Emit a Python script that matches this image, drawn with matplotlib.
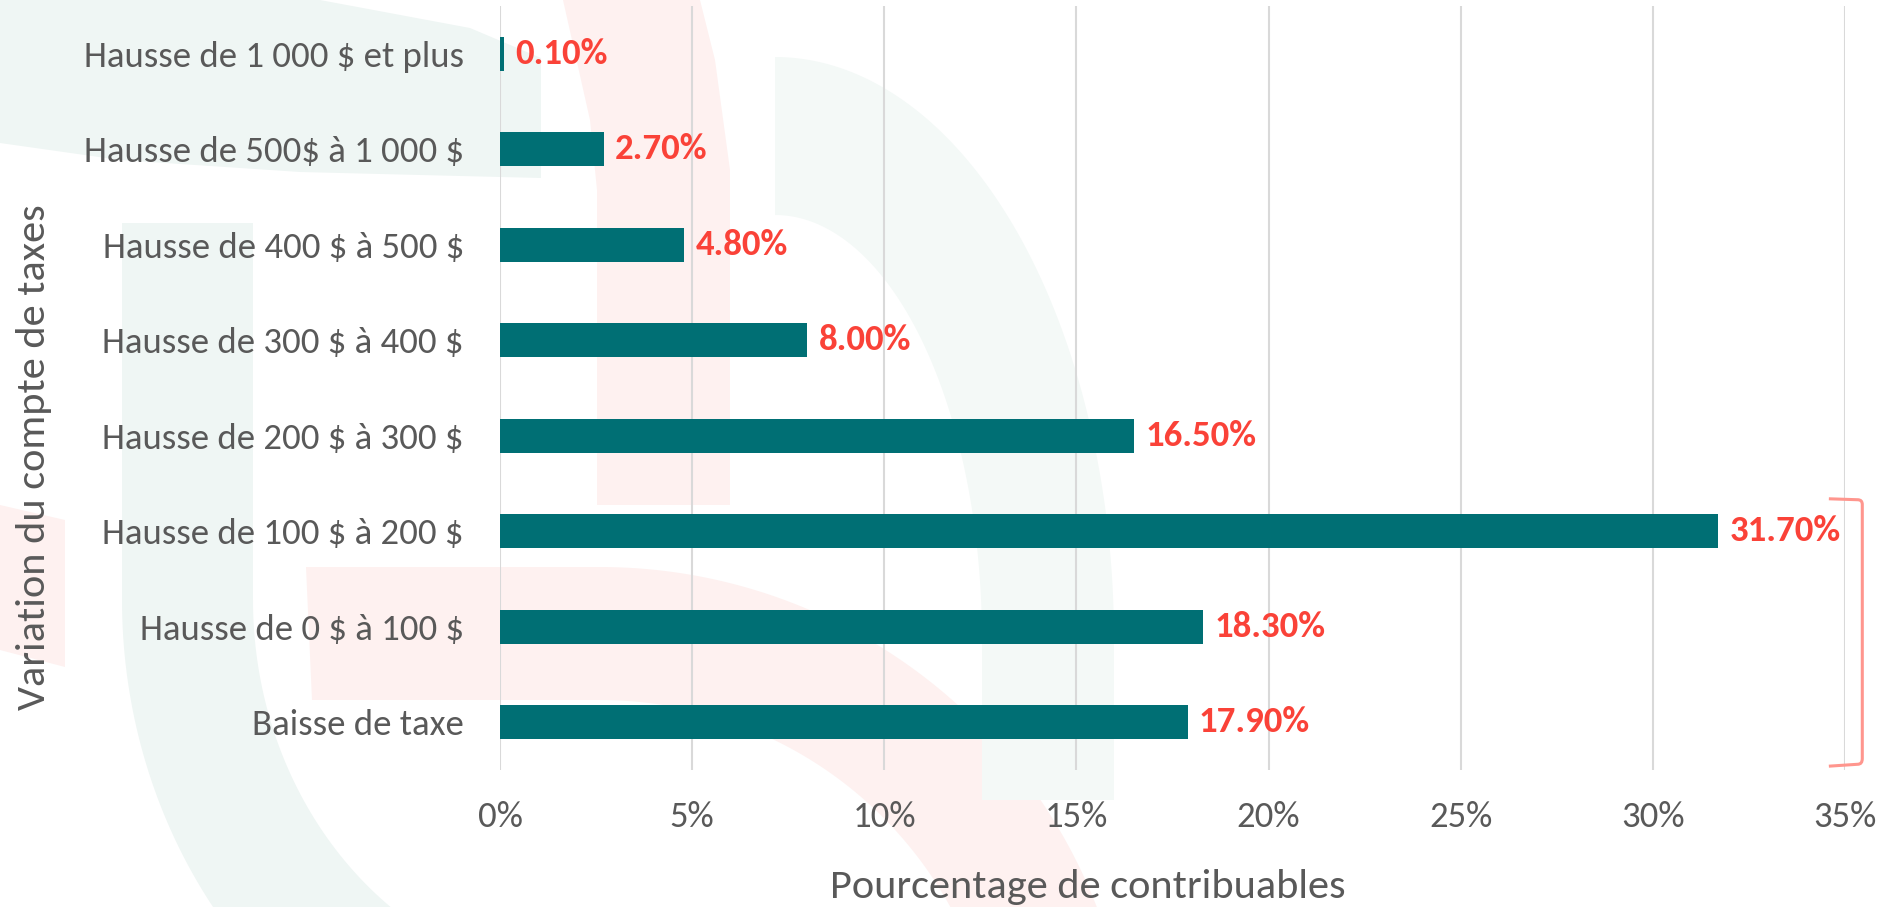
#!/usr/bin/env python3
import matplotlib
matplotlib.use("Agg")
import matplotlib.pyplot as plt
import numpy as np
from matplotlib import font_manager
from matplotlib.patches import Polygon, PathPatch
from matplotlib.path import Path

categories = ["Baisse de taxe",
              "Hausse de 0 $ à 100 $",
              "Hausse de 100 $ à 200 $",
              "Hausse de 200 $ à 300 $",
              "Hausse de 300 $ à 400 $",
              "Hausse de 400 $ à 500 $",
              "Hausse de 500$ à 1 000 $",
              "Hausse de 1 000 $ et plus"]
values = [17.9, 18.3, 31.7, 16.5, 8.0, 4.8, 2.7, 0.1]
x_ticks = [0, 5, 10, 15, 20, 25, 30, 35]
x_label = "Pourcentage de contribuables"
y_label = "Variation du compte de taxes"
bracket_from = "Hausse de 100 $ à 200 $"   # bracket covers this bar and all below

BAR_COLOR = "#006F74"
LABEL_COLOR = "#FA4238"
TEXT_COLOR = "#595959"
GRID_COLOR = "#D9D9D9"
BRACKET_COLOR = "#FF968E"
GREEN_BG = "#EFF6F4"
GREEN_BG2 = "#F4F9F7"
PINK_BG = "#FEF1F0"

installed = {f.name for f in font_manager.fontManager.ttflist}
FONT = "Carlito" if "Carlito" in installed else "Lato"
plt.rcParams["font.family"] = [FONT, "DejaVu Sans"]
plt.rcParams["text.parse_math"] = False   # the labels contain "$"
FS = 26.5 if FONT == "Carlito" else 25


def ring(cx, cy, a_out, b_out, a_in, b_in, t0, t1, n=90):
    # elliptic ring segment in pixel coords (y pointing down)
    t = np.radians(np.linspace(t0, t1, n))
    outer = np.column_stack([cx + a_out * np.cos(t), cy - b_out * np.sin(t)])
    ti = t[::-1]
    inner = np.column_stack([cx + a_in * np.cos(ti), cy - b_in * np.sin(ti)])
    return np.vstack([outer, inner])


def draw_watermark(bg):
    # faint logo shapes behind the chart
    shapes = [
        (GREEN_BG, [(0, 0), (320, 0), (470, 28), (541, 58), (541, 178),
                    (300, 172), (120, 160), (0, 143)]),
        (GREEN_BG, [(122, 223), (253, 223), (253, 600), (122, 600)]),
        (GREEN_BG, ring(600, 600, 478, 523, 347, 385, 180, 270)),
        (PINK_BG, [(0, 505), (65, 520), (65, 667), (0, 650)]),
        (PINK_BG, [(563, 0), (590, 120), (597, 190), (597, 505),
                   (730, 505), (730, 170), (715, 60), (700, 0)]),
        (PINK_BG, [(306, 567), (600, 567), (600, 700), (312, 700)]),
        (PINK_BG, ring(600, 1100, 533, 533, 400, 400, 0, 90)),
        (GREEN_BG2, ring(775, 640, 339, 583, 207, 425, 0, 90)),
        (GREEN_BG2, [(982, 640), (1114, 640), (1114, 800), (982, 800)]),
    ]
    for color, pts in shapes:
        bg.add_patch(Polygon(np.asarray(pts, dtype=float), closed=True,
                             facecolor=color, edgecolor="none"))


fig = plt.figure(figsize=(18.85, 9.07), dpi=100)

bg = fig.add_axes([0, 0, 1, 1], zorder=0)
bg.set_xlim(0, 1885)
bg.set_ylim(907, 0)
bg.axis("off")
draw_watermark(bg)

ax = fig.add_axes([500 / 1885, 1 - 770 / 907, 1345 / 1885, 764 / 907], zorder=1)
ax.set_facecolor("none")

y = np.arange(len(categories))
ax.barh(y, values, height=0.36, color=BAR_COLOR, zorder=3)

ax.set_xlim(x_ticks[0], x_ticks[-1])
ax.set_ylim(-0.5, len(categories) - 0.5)
ax.set_xticks(x_ticks)
ax.set_xticklabels([f"{t}%" for t in x_ticks])
ax.set_yticks(y)
ax.set_yticklabels(categories)
ax.grid(axis="x", color=GRID_COLOR, linewidth=1.5)
ax.grid(axis="y", visible=False)
ax.set_axisbelow(True)
for s in ax.spines.values():
    s.set_visible(False)
ax.tick_params(length=0, labelsize=FS, labelcolor=TEXT_COLOR)
ax.tick_params(axis="x", pad=22)
ax.tick_params(axis="y", pad=26)

for yi, v in zip(y, values):
    ax.annotate(f"{v:.2f}%", (v, yi), xytext=(8, 0), textcoords="offset points",
                ha="left", va="center", fontsize=FS, fontweight="bold",
                color=LABEL_COLOR, zorder=4)

ax.set_xlabel(x_label, fontsize=FS * 1.15, color=TEXT_COLOR, va="center")
ax.xaxis.set_label_coords(0.437, -0.153)
ax.set_ylabel(y_label, fontsize=FS * 1.15, color=TEXT_COLOR, va="center")
ax.yaxis.set_label_coords(-0.3465, 0.41)

# bracket on the right, from the 100-200 $ bar down past the last bar
top = categories.index(bracket_from) + 0.34
bot = -0.44
xmax = x_ticks[-1]
x0, x1, r = xmax - 0.42, xmax + 0.45, 0.12
verts = [(x0, top), (x1 - r, top - 0.01), (x1, top - 0.01), (x1, top - 0.06),
         (x1, bot + 0.06), (x1, bot), (x1 - r, bot), (x0, bot - 0.02)]
codes = [Path.MOVETO, Path.LINETO, Path.CURVE3, Path.CURVE3,
         Path.LINETO, Path.CURVE3, Path.CURVE3, Path.LINETO]
ax.add_patch(PathPatch(Path(verts, codes), facecolor="none",
                       edgecolor=BRACKET_COLOR, linewidth=2.2, clip_on=False))

fig.savefig("out.png", dpi=100)
